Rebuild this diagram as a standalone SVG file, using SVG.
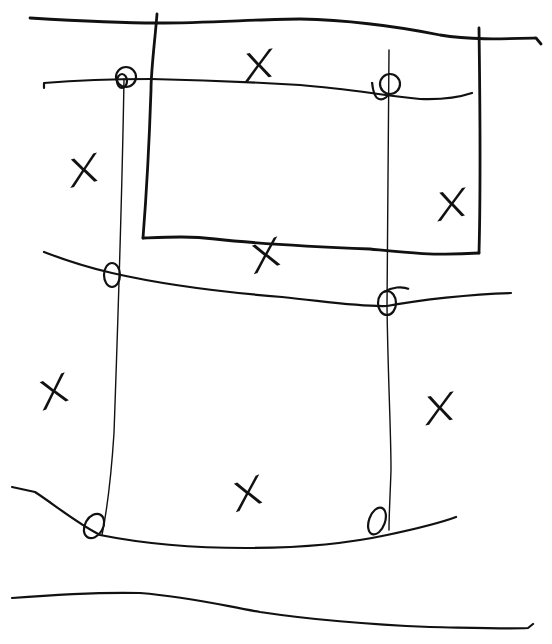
<svg xmlns="http://www.w3.org/2000/svg" width="552" height="644" viewBox="0 0 552 644">
<style>
.thick{fill:none;stroke:#111;stroke-width:2.8;stroke-linecap:round;stroke-linejoin:round}
.med{fill:none;stroke:#111;stroke-width:2.2;stroke-linecap:round;stroke-linejoin:round}
.thin{fill:none;stroke:#111;stroke-width:1.4;stroke-linecap:round;stroke-linejoin:round}
.joint{fill:none;stroke:#111;stroke-width:2.2}
.lbl{font-family:"Open Sans","Liberation Sans",sans-serif;font-weight:300;font-style:italic;font-size:52px;fill:#111;text-anchor:middle}
</style>
<rect width="552" height="644" fill="#fff"/>
<g id="connectors">
<path class="thick" d="M30,18 C80,21 120,23 157,23 C210,23 260,19 300,19 C350,20 400,27 440,35 C470,40 500,39 536,38 L541,44"/>
<path class="thick" d="M157,14 C155,40 151,70 151,90 C149,150 146,200 143,238"/>
<path class="thick" d="M143,238 C170,237 190,236 215,239 C260,244 320,247 370,249 C400,252 430,256 479,253"/>
<path class="thick" d="M479,28 C480,100 481,180 479,253"/>
<path class="med" d="M44,88 L44,83 C80,80 110,79 151,79 C200,80 250,82 300,85 C350,89 380,95 420,99 C445,100 460,97 472,93"/>
<path class="med" d="M44,252 C70,262 90,268 112,273 C160,284 220,292 282,297 C330,302 360,307 387,306 C420,300 470,294 511,293"/>
<path class="med" d="M12,487 L35,492 C55,505 75,522 100,535 C150,545 200,548 246,548 C300,548 350,543 387,535 C420,528 440,523 456,517"/>
<path class="med" d="M12,598 C50,595 100,592 140,593 C190,597 220,605 260,612 C320,621 380,625 430,627 C480,628 510,629 528,628 L533,624"/>
<path class="thin" d="M124,79 C122,200 118,320 114,433 C111,480 107,510 102,535"/>
<path class="thin" d="M389,50 C388,150 387,250 387,306 C388,380 391,430 391,470 C390,500 389,515 389,530"/>
</g>
<g id="j1"><circle class="joint" cx="126" cy="77" r="10"/><ellipse class="joint" cx="122" cy="81" rx="5" ry="7"/></g>
<g id="j2"><circle class="joint" cx="390" cy="84" r="10"/><path class="joint" d="M372,82 C373,92 375,98 379,99 C383,100 386,98 388,95"/></g>
<g id="j3"><ellipse class="joint" cx="112" cy="275" rx="8" ry="12"/></g>
<g id="j4"><ellipse class="joint" cx="387" cy="303" rx="9" ry="12"/><path class="joint" d="M384,292 C392,287 402,286 409,289"/></g>
<g id="j5"><ellipse class="joint" cx="94" cy="526" rx="9" ry="13" transform="rotate(30 94 526)"/></g>
<g id="j6"><ellipse class="joint" cx="377" cy="521" rx="8" ry="14" transform="rotate(20 377 521)"/></g>
<g id="labels">
<text class="lbl" x="0" y="14" transform="translate(259 65) rotate(-12) scale(1.3 1)">x</text>
<text class="lbl" x="0" y="14" transform="translate(84 170) rotate(-15) scale(1.3 1)">x</text>
<text class="lbl" x="0" y="14" transform="translate(452 204) rotate(-12) scale(1.3 1)">x</text>
<text class="lbl" x="0" y="14" transform="translate(266 255) rotate(-20) scale(1.3 1)">x</text>
<text class="lbl" x="0" y="14" transform="translate(54 391) rotate(-22) scale(1.3 1)">x</text>
<text class="lbl" x="0" y="14" transform="translate(440 408) rotate(-12) scale(1.3 1)">x</text>
<text class="lbl" x="0" y="14" transform="translate(248 493) rotate(-20) scale(1.3 1)">x</text>
</g>
</svg>
